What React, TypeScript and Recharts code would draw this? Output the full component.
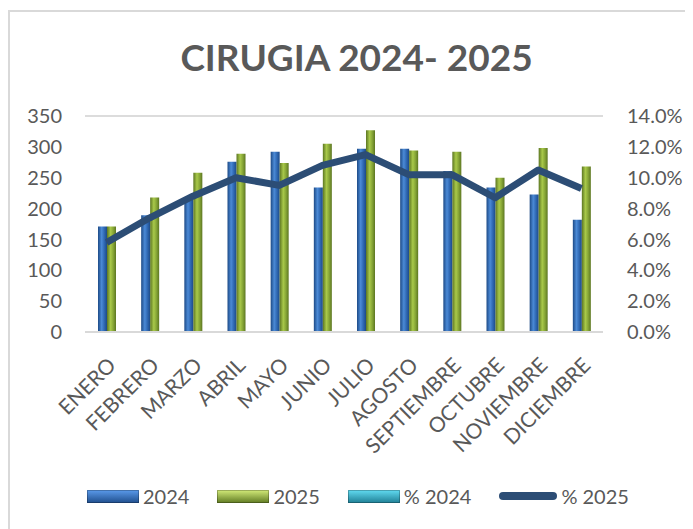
import { ComposedChart, Bar, Line, XAxis, YAxis, CartesianGrid } from 'recharts';

const meses = [
  'ENERO', 'FEBRERO', 'MARZO', 'ABRIL', 'MAYO', 'JUNIO',
  'JULIO', 'AGOSTO', 'SEPTIEMBRE', 'OCTUBRE', 'NOVIEMBRE', 'DICIEMBRE',
];
const cirugias2024 = [171, 189, 215, 276, 292, 234, 297, 297, 261, 234, 223, 182];
const cirugias2025 = [171, 218, 258, 289, 274, 305, 327, 294, 292, 250, 298, 268];
const pct2024: (number | null)[] = [null, null, null, null, null, null, null, null, null, null, null, null];
const pct2025 = [0.058, 0.074, 0.088, 0.1, 0.095, 0.108, 0.115, 0.102, 0.102, 0.087, 0.105, 0.093];
const leftTicks = [0, 50, 100, 150, 200, 250, 300, 350];
const rightTicks = [0, 0.02, 0.04, 0.06, 0.08, 0.1, 0.12, 0.14];

const data = meses.map((mes, i) => ({
  mes,
  c2024: cirugias2024[i],
  c2025: cirugias2025[i],
  p2024: pct2024[i],
  p2025: pct2025[i],
}));

const FONT = 'Lato, "Open Sans", sans-serif';
const TXT = '#595959';

const legendItems = [
  { label: '2024', type: 'bar', from: '#5b9bec', to: '#1f4e8c' },
  { label: '2025', type: 'bar', from: '#d4ec7a', to: '#5f7a22' },
  { label: '% 2024', type: 'bar', from: '#62dcf2', to: '#1f7f95' },
  { label: '% 2025', type: 'line', from: '#2c4d75', to: '#2c4d75' },
];

export default function App() {
  return (
    <div
      style={{
        position: 'relative',
        marginTop: 2,
        width: 683,
        height: 517,
        borderLeft: '2px solid #d9d9d9',
        borderTop: '2px solid #d9d9d9',
        fontFamily: FONT,
        background: '#fff',
      }}
    >
      <div
        style={{
          position: 'absolute',
          top: 23,
          left: 0,
          width: 693,
          textAlign: 'center',
          fontSize: 37,
          fontWeight: 700,
          color: TXT,
          lineHeight: '44px',
        }}
      >
        CIRUGIA 2024- 2025
      </div>
      <ComposedChart
        width={683}
        height={517}
        data={data}
        margin={{ top: 104, right: 0, bottom: 77, left: 0 }}
        barGap={0}
        barSize={9}
      >
        <defs>
          <linearGradient id="gBlue" x1="0" y1="0" x2="1" y2="0">
            <stop offset="0%" stopColor="#1d4a86" />
            <stop offset="40%" stopColor="#4b8ad6" />
            <stop offset="70%" stopColor="#2f68b3" />
            <stop offset="100%" stopColor="#1d4a86" />
          </linearGradient>
          <linearGradient id="gGreen" x1="0" y1="0" x2="1" y2="0">
            <stop offset="0%" stopColor="#5c7622" />
            <stop offset="40%" stopColor="#a9c94a" />
            <stop offset="70%" stopColor="#86a536" />
            <stop offset="100%" stopColor="#5c7622" />
          </linearGradient>
        </defs>
        <CartesianGrid vertical={false} stroke="#dcdcdc" strokeWidth={2} />
        <XAxis
          dataKey="mes"
          interval={0}
          height={120}
          tickSize={0}
          tickMargin={24}
          angle={-45}
          textAnchor="end"
          axisLine={{ stroke: '#d9d9d9', strokeWidth: 2 }}
          tick={{ fill: TXT, fontSize: 21, fontFamily: FONT }}
        />
        <YAxis
          yAxisId="left"
          width={75}
          domain={[0, 350]}
          ticks={leftTicks}
          tickSize={0}
          tickMargin={23}
          axisLine={false}
          tick={{ fill: TXT, fontSize: 20, fontFamily: FONT }}
        />
        <YAxis
          yAxisId="right"
          orientation="right"
          width={90}
          domain={[0, 0.14]}
          ticks={rightTicks}
          tickSize={0}
          tickMargin={24}
          axisLine={false}
          tickFormatter={(v: number) => (v * 100).toFixed(1) + '%'}
          tick={{ fill: TXT, fontSize: 20, fontFamily: FONT, textAnchor: 'start' }}
        />
        <Bar yAxisId="left" dataKey="c2024" name="2024" fill="url(#gBlue)" isAnimationActive={false} />
        <Bar yAxisId="left" dataKey="c2025" name="2025" fill="url(#gGreen)" isAnimationActive={false} />
        <Line
          yAxisId="right"
          dataKey="p2024"
          name="% 2024"
          stroke="#3cc4de"
          strokeWidth={7}
          dot={false}
          isAnimationActive={false}
        />
        <Line
          yAxisId="right"
          type="linear"
          dataKey="p2025"
          name="% 2025"
          stroke="#2c4d75"
          strokeWidth={7}
          strokeLinejoin="round"
          dot={false}
          isAnimationActive={false}
        />
      </ComposedChart>
      <div
        style={{
          position: 'absolute',
          top: 472,
          left: 77,
          display: 'flex',
          alignItems: 'center',
          fontSize: 20,
          color: TXT,
        }}
      >
        {legendItems.map((it) => (
          <div key={it.label} style={{ display: 'flex', alignItems: 'center', marginRight: 28 }}>
            {it.type === 'bar' ? (
              <span
                style={{
                  display: 'inline-block',
                  width: 52,
                  height: 13,
                  background: `linear-gradient(${it.from}, ${it.to})`,
                  boxShadow: 'inset 0 0 0 1px rgba(0,0,0,0.25)',
                }}
              />
            ) : (
              <span
                style={{
                  display: 'inline-block',
                  width: 58,
                  height: 8,
                  borderRadius: 4,
                  background: it.from,
                }}
              />
            )}
            <span style={{ marginLeft: 4 }}>{it.label}</span>
          </div>
        ))}
      </div>
    </div>
  );
}
